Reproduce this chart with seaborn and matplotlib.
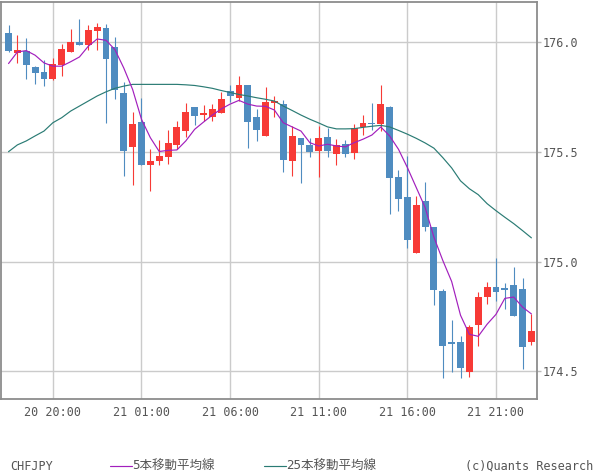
import numpy as np
import pandas as pd
import matplotlib
matplotlib.use("Agg")
import matplotlib.pyplot as plt
from matplotlib.lines import Line2D
import seaborn as sns

# ---------------- data (CHFJPY, 30-minute candles) ----------------
opens = [176.041, 175.951, 175.962, 175.886, 175.864, 175.833, 175.897, 175.956, 176.003, 175.988,
         176.051, 176.064, 175.977, 175.768, 175.524, 175.636, 175.438, 175.460, 175.479, 175.533,
         175.597, 175.705, 175.668, 175.659, 175.677, 175.777, 175.745, 175.805, 175.659, 175.573,
         175.723, 175.718, 175.459, 175.564, 175.532, 175.505, 175.568, 175.491, 175.536, 175.495,
         175.614, 175.632, 175.627, 175.705, 175.386, 175.295, 175.038, 175.277, 175.159, 174.865,
         174.634, 174.632, 174.497, 174.711, 174.838, 174.886, 174.877, 174.891, 174.873, 174.633]
highs = [176.077, 176.032, 176.018, 175.891, 175.918, 175.927, 175.992, 176.059, 176.105, 176.077,
         176.086, 176.082, 176.024, 175.818, 175.682, 175.745, 175.514, 175.553, 175.600, 175.641,
         175.723, 175.705, 175.714, 175.718, 175.773, 175.805, 175.846, 175.805, 175.696, 175.796,
         175.755, 175.736, 175.618, 175.564, 175.564, 175.618, 175.609, 175.559, 175.555, 175.627,
         175.668, 175.723, 175.805, 175.709, 175.418, 175.482, 175.300, 175.364, 175.159, 174.874,
         174.732, 174.659, 174.709, 174.859, 174.905, 175.018, 174.900, 174.977, 174.923, 174.761]
lows = [175.955, 175.906, 175.833, 175.808, 175.801, 175.830, 175.847, 175.956, 175.988, 175.965,
        175.965, 175.633, 175.742, 175.388, 175.351, 175.442, 175.320, 175.442, 175.447, 175.515,
        175.568, 175.623, 175.641, 175.641, 175.677, 175.727, 175.732, 175.518, 175.550, 175.573,
        175.659, 175.409, 175.391, 175.359, 175.477, 175.386, 175.477, 175.441, 175.477, 175.468,
        175.577, 175.600, 175.595, 175.215, 175.229, 175.060, 175.038, 175.138, 174.801, 174.467,
        174.497, 174.470, 174.474, 174.615, 174.806, 174.820, 174.783, 174.751, 174.511, 174.620]
closes = [175.959, 175.964, 175.897, 175.861, 175.833, 175.899, 175.968, 176.000, 175.988, 176.055,
          176.070, 175.924, 175.783, 175.506, 175.627, 175.442, 175.459, 175.482, 175.541, 175.614,
          175.682, 175.664, 175.677, 175.696, 175.741, 175.755, 175.805, 175.636, 175.600, 175.727,
          175.732, 175.464, 175.573, 175.532, 175.500, 175.564, 175.505, 175.532, 175.491, 175.609,
          175.632, 175.627, 175.718, 175.379, 175.283, 175.097, 175.259, 175.156, 174.870, 174.615,
          174.624, 174.515, 174.700, 174.836, 174.882, 174.861, 174.870, 174.751, 174.611, 174.682]
ma5 = [175.903, 175.956, 175.962, 175.941, 175.906, 175.891, 175.891, 175.911, 175.933, 175.982,
       176.015, 176.009, 175.967, 175.883, 175.785, 175.649, 175.565, 175.502, 175.507, 175.509,
       175.550, 175.603, 175.636, 175.668, 175.696, 175.718, 175.735, 175.718, 175.709, 175.708,
       175.691, 175.633, 175.614, 175.595, 175.542, 175.527, 175.535, 175.527, 175.523, 175.542,
       175.558, 175.577, 175.614, 175.573, 175.512, 175.429, 175.338, 175.247, 175.111, 175.005,
       174.909, 174.755, 174.668, 174.659, 174.714, 174.759, 174.832, 174.838, 174.792, 174.761]
ma25 = [175.501, 175.532, 175.550, 175.573, 175.595, 175.633, 175.656, 175.686, 175.709, 175.732,
        175.755, 175.774, 175.790, 175.800, 175.808, 175.808, 175.808, 175.808, 175.808, 175.808,
        175.806, 175.803, 175.797, 175.790, 175.780, 175.771, 175.762, 175.755, 175.747, 175.740,
        175.732, 175.709, 175.689, 175.668, 175.649, 175.632, 175.614, 175.605, 175.605, 175.606,
        175.612, 175.617, 175.621, 175.614, 175.598, 175.581, 175.562, 175.541, 175.517, 175.474,
        175.427, 175.368, 175.332, 175.305, 175.264, 175.232, 175.202, 175.173, 175.141, 175.108]
tick_labels = ["20 20:00", "21 01:00", "21 06:00", "21 11:00", "21 16:00", "21 21:00"]
tick_index = [5, 15, 25, 35, 45, 55]
y_ticks = [174.5, 175.0, 175.5, 176.0]

df = pd.DataFrame({"open": opens, "high": highs, "low": lows, "close": closes,
                   "ma5": ma5, "ma25": ma25})
df["idx"] = np.arange(len(df))

# ---------------- styling ----------------
sns.set_style("white")
plt.rcParams["font.family"] = ["DejaVu Sans Mono", "Noto Sans CJK JP"]

UP = "#f73a36"
DOWN = "#4f8cc0"
MA5C = "#a21fbd"
MA25C = "#2a7b74"
TXT = "#555555"
SPINE = "#8c8c8c"

fig = plt.figure(figsize=(6.0, 4.75), dpi=100)
ax = fig.add_axes([1 / 600, 0.16, 536 / 600, 1 - 0.16 - 1.5 / 475])

up = df["close"] >= df["open"]
colors = np.where(up, UP, DOWN)
body_low = np.minimum(df["open"], df["close"])
body_h = np.maximum(np.abs(df["close"] - df["open"]), 0.006)

ax.vlines(df["idx"], df["low"], df["high"], colors=colors, lw=0.8, zorder=2)
ax.bar(df["idx"], body_h, bottom=body_low, width=0.78, color=colors,
       linewidth=0, zorder=3)

sns.lineplot(data=df, x="idx", y="ma25", color=MA25C, lw=0.85, ax=ax, zorder=4)
sns.lineplot(data=df, x="idx", y="ma5", color=MA5C, lw=0.85, ax=ax, zorder=5)

ax.set_xlim(-0.85, 59.63)
ax.set_ylim(174.373, 176.186)
ax.set_xticks(tick_index)
ax.set_xticklabels(tick_labels)
ax.set_yticks(y_ticks)
ax.set_yticklabels([f"{v:.1f}" for v in y_ticks])
ax.yaxis.tick_right()
ax.set_xlabel("")
ax.set_ylabel("")
ax.grid(True, color="#cbcbcb", lw=1.0, zorder=0)
ax.set_axisbelow(True)
ax.tick_params(axis="x", length=0, pad=5, labelcolor=TXT, labelsize=8.5)
ax.tick_params(axis="y", length=3, width=1, color="#bbbbbb", pad=1,
               labelcolor=TXT, labelsize=8.5, right=True, left=False)
for s in ax.spines.values():
    s.set_color(SPINE)
    s.set_linewidth(1.3)
    s.set_visible(True)

# ---------------- footer legend ----------------
yl = 1 - 466 / 475
fig.text(10 / 600, yl, "CHFJPY", color=TXT, fontsize=8.5, va="center", ha="left")
fig.add_artist(Line2D([110 / 600, 132 / 600], [yl, yl], color=MA5C, lw=0.85,
                      transform=fig.transFigure))
fig.text(132 / 600, yl, "5本移動平均線", color=TXT, fontsize=9, va="center", ha="left")
fig.add_artist(Line2D([264 / 600, 286 / 600], [yl, yl], color=MA25C, lw=0.85,
                      transform=fig.transFigure))
fig.text(286 / 600, yl, "25本移動平均線", color=TXT, fontsize=9, va="center", ha="left")
fig.text(593 / 600, yl, "(c)Quants Research", color=TXT, fontsize=8.5,
         va="center", ha="right")

fig.savefig("out.png", dpi=100)
